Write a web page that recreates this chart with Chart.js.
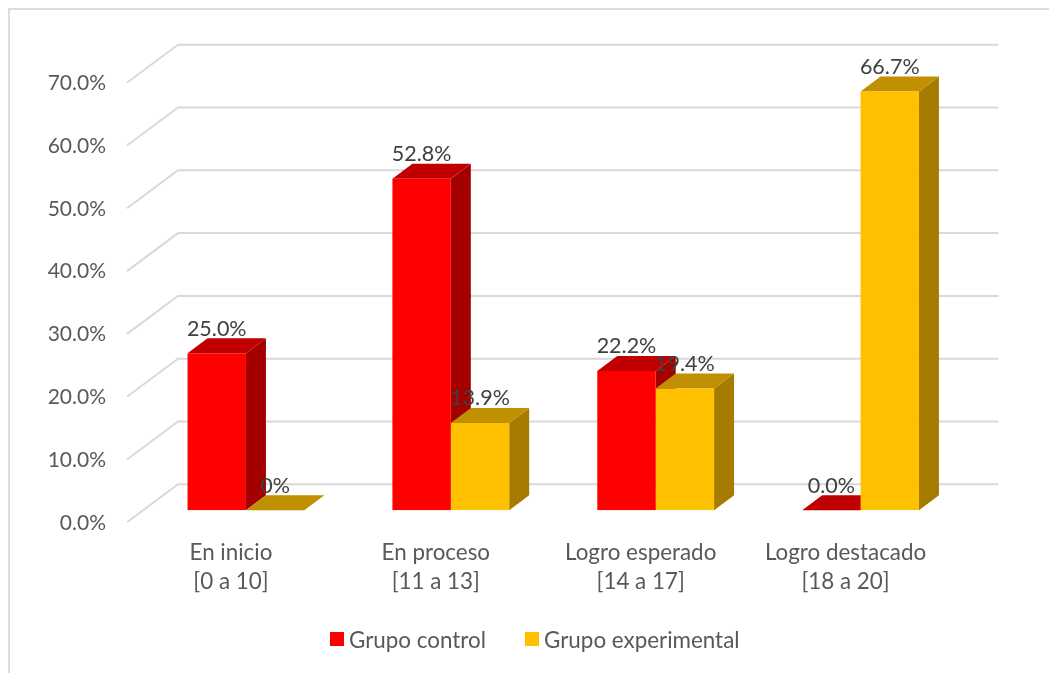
<!DOCTYPE html>
<html>
<head>
<meta charset="utf-8">
<title>Grupo control y experimental</title>
<script src="https://cdn.jsdelivr.net/npm/chart.js@4/dist/chart.umd.min.js"></script>
<style>
  html, body { margin: 0; padding: 0; background: #fff; overflow: hidden; }
  #wrap { position: relative; width: 1049px; height: 673px; overflow: hidden; }
  #frame { position: absolute; left: 8px; top: 8px; width: 1100px; height: 700px; border: 2px solid #dcdcdc; box-sizing: border-box; }
  canvas { position: absolute; left: 0; top: 0; }
  #legend { position: absolute; left: 330px; top: 625px; display: flex; height: 28px; align-items: center;
    font: 22.4px Lato, sans-serif; color: #595959; }
  .item { display: flex; align-items: center; margin-right: 39px; white-space: nowrap; }
  .box { width: 14px; height: 14px; margin-right: 5px; }
</style>
</head>
<body>
<div id="wrap">
  <div id="frame"></div>
  <canvas id="chart" width="1049" height="673"></canvas>
  <div id="legend"></div>
</div>
<script>
const categories = [['En inicio', '[0 a 10]'], ['En proceso', '[11 a 13]'], ['Logro esperado', '[14 a 17]'], ['Logro destacado', '[18 a 20]']];
const grupoControl = [25.0, 52.8, 22.2, 0.0];
const grupoExperimental = [0, 13.9, 19.4, 66.7];
const controlLabels = ['25.0%', '52.8%', '22.2%', '0.0%'];
const experimentalLabels = ['0%', '13.9%', '19.4%', '66.7%'];
const yTickLabels = ['0.0%', '10.0%', '20.0%', '30.0%', '40.0%', '50.0%', '60.0%', '70.0%'];

const FONT = 'Lato, sans-serif';
const DEPTH_X = 20, DEPTH_Y = 15;

function poly(ctx, color, pts) {
  ctx.fillStyle = color;
  ctx.beginPath();
  pts.forEach((p, i) => i ? ctx.lineTo(p[0], p[1]) : ctx.moveTo(p[0], p[1]));
  ctx.closePath();
  ctx.fill();
}

// back wall lines, same look as the excel 3d column
const wallPlugin = {
  id: 'wall',
  beforeDatasetsDraw(chart) {
    const { ctx, chartArea, scales } = chart;
    const x0 = chartArea.left - 16.5, x1 = chartArea.left + 34.5, x2 = chartArea.right + 35.5;
    ctx.save();
    ctx.strokeStyle = '#d9d9d9';
    ctx.lineWidth = 2;
    scales.y.ticks.forEach(t => {
      const py = scales.y.getPixelForValue(t.value);
      ctx.beginPath();
      ctx.moveTo(x0, py + 12);
      ctx.lineTo(x1, py - 26);
      ctx.lineTo(x2, py - 26);
      ctx.stroke();
    });
    ctx.restore();
  }
};

// top and side faces of each bar, the front is the normal chart.js bar
const depthPlugin = {
  id: 'depth',
  beforeDatasetsDraw(chart) {
    const { ctx } = chart;
    chart.data.datasets.forEach((ds, i) => {
      chart.getDatasetMeta(i).data.forEach(bar => {
        const l = bar.x - bar.width / 2, r = bar.x + bar.width / 2;
        poly(ctx, ds.sideColor, [[r, bar.y], [r + DEPTH_X, bar.y - DEPTH_Y], [r + DEPTH_X, bar.base - DEPTH_Y], [r, bar.base]]);
        poly(ctx, ds.topColor, [[l, bar.y], [l + DEPTH_X, bar.y - DEPTH_Y], [r + DEPTH_X, bar.y - DEPTH_Y], [r, bar.y]]);
      });
    });
  }
};

const valueLabelPlugin = {
  id: 'valueLabels',
  afterDatasetsDraw(chart) {
    const { ctx } = chart;
    ctx.save();
    ctx.font = '21.5px ' + FONT;
    ctx.fillStyle = '#404040';
    ctx.textAlign = 'center';
    ctx.textBaseline = 'middle';
    chart.data.datasets.forEach((ds, i) => {
      chart.getDatasetMeta(i).data.forEach((bar, j) => {
        ctx.fillText(ds.valueLabels[j], bar.x, bar.y - 24.5);
      });
    });
    ctx.restore();
  }
};

const chart = new Chart(document.getElementById('chart'), {
  type: 'bar',
  data: {
    labels: categories,
    datasets: [
      { label: 'Grupo control', data: grupoControl, backgroundColor: '#ff0000', topColor: '#c00000', sideColor: '#a50000', valueLabels: controlLabels },
      { label: 'Grupo experimental', data: grupoExperimental, backgroundColor: '#ffc000', topColor: '#c09000', sideColor: '#a67c00', valueLabels: experimentalLabels }
    ]
  },
  options: {
    responsive: false,
    animation: false,
    layout: { padding: { top: 70.7, right: 86, bottom: 0, left: 0 } },
    categoryPercentage: 0.57,
    barPercentage: 1,
    plugins: {
      legend: { display: false },
      tooltip: { enabled: false }
    },
    scales: {
      x: {
        grid: { display: false, drawTicks: false },
        border: { display: false },
        afterFit(scale) { scale.height = 162.7; },
        ticks: {
          color: '#595959',
          font: { family: FONT, size: 22.4, lineHeight: 1.3 },
          padding: 28,
          labelOffset: -15,
          maxRotation: 0,
          autoSkip: false
        }
      },
      y: {
        min: 0,
        max: 70,
        grid: { display: false, drawTicks: false },
        border: { display: false },
        afterFit(scale) { scale.width = 143.5; },
        ticks: {
          stepSize: 10,
          color: '#595959',
          font: { family: FONT, size: 21 },
          padding: 37.5,
          labelOffset: 12.5,
          callback: (value, index) => yTickLabels[index]
        }
      }
    }
  },
  plugins: [wallPlugin, depthPlugin, valueLabelPlugin]
});

const legend = document.getElementById('legend');
chart.data.datasets.forEach(ds => {
  const item = document.createElement('div');
  item.className = 'item';
  const box = document.createElement('span');
  box.className = 'box';
  box.style.background = ds.backgroundColor;
  item.appendChild(box);
  item.appendChild(document.createTextNode(ds.label));
  legend.appendChild(item);
});
</script>
</body>
</html>
